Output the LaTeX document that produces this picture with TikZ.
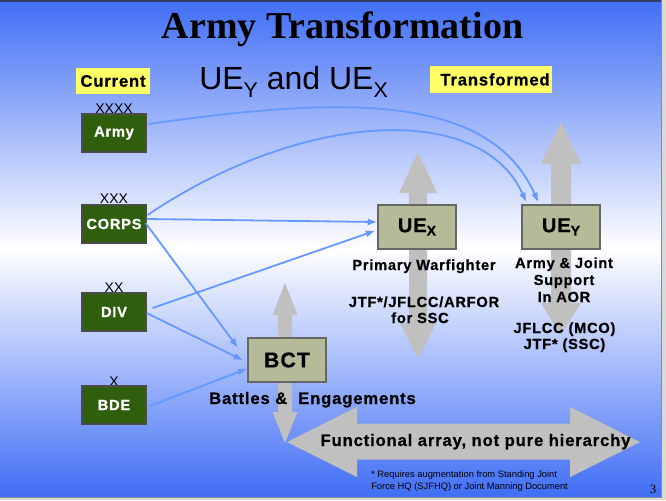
\documentclass[tikz,border=0pt]{standalone}
\usepackage{fontspec}
\setmainfont{Liberation Sans}
\newfontfamily\titlefont{Liberation Serif}
\newfontfamily\lbl[LetterSpace=5, BoldFeatures={FakeBold=0.6}]{Liberation Sans}
\usetikzlibrary{calc,arrows.meta}
\definecolor{bgblue}{RGB}{64,110,245}
\definecolor{conblue}{RGB}{102,153,255}
\definecolor{armygreen}{RGB}{47,95,12}
\definecolor{olivebox}{RGB}{181,187,153}
\definecolor{arrowgray}{RGB}{192,192,192}
\definecolor{labelyellow}{RGB}{255,255,102}
\definecolor{edgedark}{RGB}{50,60,100}
\tikzset{
  unitbox/.style={draw=black!70, line width=0.8pt, fill=armygreen, minimum width=48pt, minimum height=28.5pt, inner sep=0pt, text=white, font=\lbl\bfseries\fontsize{11}{13}\selectfont},
  uebox/.style={draw=black!60, line width=0.9pt, fill=olivebox, minimum width=58.5pt, minimum height=33pt, inner sep=0pt, font=\lbl\bfseries\fontsize{15}{18}\selectfont},
  echelon/.style={font=\fontsize{10.5}{12}\selectfont, inner sep=0pt, anchor=base},
  tag/.style={fill=labelyellow, minimum height=19.75pt, inner sep=0pt, font=\lbl\bfseries\fontsize{12.5}{15}\selectfont},
  note/.style={font=\lbl\bfseries\fontsize{11}{13.5}\selectfont, inner sep=0pt, anchor=base},
  con/.style={conblue, line width=1.35pt, -{Triangle[length=6.5pt,width=4.5pt]}},
  bigarrow/.style={fill=arrowgray}
}
\begin{document}
\begin{tikzpicture}[x=0.75pt,y=-0.75pt]
\useasboundingbox (0,0) rectangle (666,500);
% background
\fill[gray!30] (0,0) rectangle (666,500);
\shade[top color=bgblue, bottom color=bgblue, middle color=white] (0,0) rectangle (661,497);
\draw[edgedark, line width=1.2pt] (0,1) -- (661,1);
\draw[edgedark!60, line width=0.6pt] (661,0) -- (661,497) -- (0,497);

% big gray arrows
\fill[bigarrow] (418,152) -- (437,193) -- (427,193) -- (427,323) -- (436,323) -- (418,359) -- (400,323) -- (409,323) -- (409,193) -- (399,193) -- cycle;
\fill[bigarrow] (561,122) -- (581.5,164) -- (571,164) -- (571,303) -- (581,303) -- (561,335) -- (541,303) -- (551,303) -- (551,164) -- (540.5,164) -- cycle;
\fill[bigarrow] (285,283) -- (297.5,315) -- (292,315) -- (292,412) -- (297.5,412) -- (285,443) -- (272.5,412) -- (278,412) -- (278,315) -- (272.5,315) -- cycle;
\fill[bigarrow] (287,442) -- (357,407) -- (357,423.5) -- (570,423.5) -- (570,407) -- (640,442) -- (570,477) -- (570,459.5) -- (357,459.5) -- (357,477) -- cycle;

% titles
\node[anchor=base, inner sep=0pt, font=\titlefont\bfseries\fontsize{28.5}{34}\selectfont] (title) at (342.5,38) {Army Transformation};
\node[anchor=base west, inner sep=0pt, font=\fontsize{24}{28}\selectfont] (subtitle) at (199,89) {UE\raisebox{-6.4pt}{\fontsize{16}{18}\selectfont Y} and UE\raisebox{-6.4pt}{\fontsize{16}{18}\selectfont X}};
\node[tag, minimum width=55.5pt] (current) at (113,81) {Current};
\node[tag, minimum width=91.5pt] (transformed) at (491,79.5) {\hspace*{6pt}Transformed};

% current units
\node[echelon] (e4) at (114,113) {XXXX};
\node[echelon] (e3) at (114,203) {XXX};
\node[echelon] (e2) at (114,292) {XX};
\node[echelon] (e1) at (114,386) {X};
\node[unitbox] (army) at (114,133) {Army};
\node[unitbox] (corps) at (114,224) {CORPS};
\node[unitbox] (div) at (114,312) {DIV};
\node[unitbox] (bde) at (114,405) {BDE};

% transformed units
\node[uebox] (uex) at (417,227) {UE\raisebox{-2.6pt}{\fontsize{10.5}{12}\selectfont X}};
\node[uebox] (uey) at (561,227) {UE\raisebox{-2.6pt}{\fontsize{10.5}{12}\selectfont Y}};
\node[uebox, font=\lbl\bfseries\fontsize{16}{19}\selectfont] (bct) at (287,360) {BCT};

% connectors
\draw[con] ($(army.east)+(2,-9)$) .. controls (350,95) and (490,95) .. ($(uey.north)+(-23,-3)$);
\draw[con] ($(corps.east)+(1,-9)$) .. controls (300,112) and (480,100) .. ($(uey.north)+(-35,-3)$);
\draw[con] ($(corps.east)+(0,-5)$) -- ($(uex.west)+(-1,-5)$);
\draw[con] ($(corps.east)+(-1,-1)$) -- ($(bct.west)+(-10,-13)$);
\draw[con] ($(div.east)+(6,-4)$) -- ($(uex.west)+(-3,4)$);
\draw[con] ($(div.east)+(0,1)$) -- ($(bct.west)+(-5,0)$);
\draw[con] ($(bde.east)+(2,1.5)$) -- ($(bct.west)+(-1,9)$);

% notes
\node[note] (pw) at (424,270) {Primary Warfighter};
\node[note] (jtf1) at (424,307) {JTF*/JFLCC/ARFOR};
\node[note] (jtf2) at (420,323) {for SSC};
\node[note] (aj1) at (564,268) {Army \& Joint};
\node[note] (aj2) at (564,285) {Support};
\node[note] (aj3) at (564,302) {In AOR};
\node[note] (mco) at (564.5,333) {JFLCC (MCO)};
\node[note] (ssc) at (564.5,349) {JTF* (SSC)};
\node[note, font=\lbl\bfseries\fontsize{12.5}{15}\selectfont] (battles) at (312.5,404) {Battles \&\ \ Engagements};
\node[note, font=\lbl\bfseries\fontsize{12.5}{15}\selectfont] (func) at (475.5,446) {Functional array, not pure hierarchy};
\node[anchor=base west, inner sep=0pt, font=\fontsize{7}{9}\selectfont] (fn1) at (371,477) {* Requires augmentation from Standing Joint};
\node[anchor=base west, inner sep=0pt, font=\fontsize{7}{9}\selectfont] (fn2) at (371,489) {Force HQ (SJFHQ) or Joint Manning Document};
\node[anchor=base, inner sep=0pt, font=\titlefont\fontsize{9.5}{11}\selectfont] (pg) at (653,493) {3};
\end{tikzpicture}
\end{document}
